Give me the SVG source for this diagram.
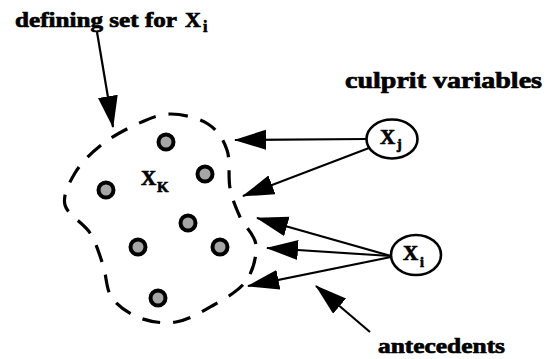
<svg xmlns="http://www.w3.org/2000/svg" width="546" height="359" viewBox="0 0 546 359">
  <style>
    .t { font-family: "Liberation Serif", "Times New Roman", "DejaVu Serif", serif; font-weight: bold; fill: #000; stroke: #000; stroke-width: 0.7; }
    .edge { stroke: #000; stroke-width: 2.2; fill: none; marker-end: url(#ah); }
    .dot { fill: #a6a6a6; stroke: #000; stroke-width: 4; }
    .var { fill: #fff; stroke: #000; stroke-width: 2.6; }
  </style>
  <defs>
    <marker id="ah" markerUnits="userSpaceOnUse" markerWidth="32" markerHeight="22" refX="31" refY="10" orient="auto">
      <path d="M0,0 L32,10 L0,20 Z" fill="#000"/>
    </marker>
  </defs>
  <rect width="546" height="359" fill="#fff"/>

  <g id="label-defining-set">
    <text class="t" x="15" y="27" font-size="22" textLength="162" lengthAdjust="spacingAndGlyphs">defining set for</text>
    <text class="t" x="185" y="27" font-size="22">X</text>
    <text class="t" x="203" y="32" font-size="16">i</text>
  </g>

  <g id="defining-set">
    <path d="M170,114 C182.2,113.8 198.5,118 208,124 C217.5,130 223.3,139.3 227,150 C230.7,160.7 227.8,176.8 230,188 C232.2,199.2 235.7,207.5 240,217 C244.3,226.5 255,234.3 256,245 C257,255.7 253.3,270.8 246,281 C238.7,291.2 223.7,299.2 212,306 C200.3,312.8 188,320 176,322 C164,324 150.7,322 140,318 C129.3,314 118.2,306.8 112,298 C105.8,289.2 106.7,275.8 103,265 C99.3,254.2 96.3,243 90,233 C83.7,223 67.5,215 65,205 C62.5,195 69.2,182.8 75,173 C80.8,163.2 90,154 100,146 C110,138 123.3,130.3 135,125 C146.7,119.7 157.8,114.2 170,114 Z" fill="none" stroke="#000" stroke-width="3.2" stroke-dasharray="18 13"/>
    <g id="xk-label">
      <text class="t" x="141" y="185" font-size="21">X</text>
      <text class="t" x="157" y="192" font-size="15">K</text>
    </g>
    <g id="dots">
      <circle class="dot" cx="166" cy="142" r="7.5"/>
      <circle class="dot" cx="205" cy="174" r="7.5"/>
      <circle class="dot" cx="106" cy="190" r="7.5"/>
      <circle class="dot" cx="188" cy="223" r="7.5"/>
      <circle class="dot" cx="138" cy="247" r="7.5"/>
      <circle class="dot" cx="220" cy="247" r="7.5"/>
      <circle class="dot" cx="158" cy="298" r="7.5"/>
    </g>
  </g>

  <g id="label-culprit">
    <text class="t" x="345" y="88" font-size="23" textLength="197" lengthAdjust="spacingAndGlyphs">culprit variables</text>
  </g>

  <g id="node-xj">
    <ellipse class="var" cx="392" cy="139" rx="25.5" ry="19.5"/>
    <text class="t" x="380" y="144" font-size="21">X</text>
    <text class="t" x="397" y="149" font-size="14">j</text>
  </g>

  <g id="node-xi">
    <ellipse class="var" cx="416" cy="255" rx="25" ry="20"/>
    <text class="t" x="403" y="260" font-size="21">X</text>
    <text class="t" x="420" y="267" font-size="14">i</text>
  </g>

  <g id="label-antecedents">
    <text class="t" x="378" y="353" font-size="22" textLength="127" lengthAdjust="spacingAndGlyphs">antecedents</text>
  </g>

  <g id="connectors">
    <line class="edge" x1="97" y1="32" x2="113" y2="127"/>
    <line class="edge" x1="366" y1="139" x2="235" y2="140"/>
    <line class="edge" x1="369" y1="148" x2="243" y2="196"/>
    <line class="edge" x1="391" y1="256" x2="257" y2="218"/>
    <line class="edge" x1="391" y1="256" x2="267" y2="248"/>
    <line class="edge" x1="391" y1="257" x2="248" y2="286"/>
    <line class="edge" x1="370" y1="332" x2="316" y2="286"/>
  </g>
</svg>
